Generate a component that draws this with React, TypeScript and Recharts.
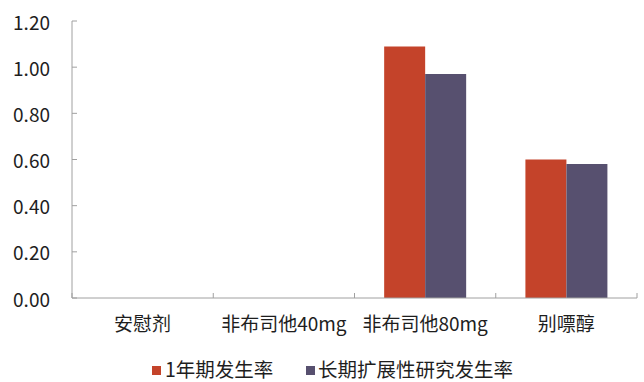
import React from "react";
import { BarChart, Bar, XAxis, YAxis, Legend } from "recharts";

// Incidence rates per treatment group
const categories = ["安慰剂", "非布司他40mg", "非布司他80mg", "别嘌醇"];
const oneYearRates = [0, 0, 1.09, 0.6];
const extensionRates = [0, 0, 0.97, 0.58];
const yTicks = [0, 0.2, 0.4, 0.6, 0.8, 1.0, 1.2];
const seriesNames = ["1年期发生率", "长期扩展性研究发生率"];
const seriesColors = ["#C4432A", "#57506F"];

const AXIS = "#A0A0A0";
const TEXT = "#1E1E1E";
const FONT = '"Noto Sans CJK SC", "Noto Sans", sans-serif';

const data = categories.map((name, i) => ({
  name,
  oneYear: oneYearRates[i],
  extension: extensionRates[i],
}));

const YTick = (props: any) => {
  const { x, y, payload } = props;
  return (
    <g>
      <line x1={x} x2={x + 5} y1={y} y2={y} stroke={AXIS} strokeWidth={1} />
      <text
        x={x - 22}
        y={y}
        textAnchor="end"
        dominantBaseline="central"
        fill={TEXT}
        fontSize={19}
        fontFamily={FONT}
      >
        {Number(payload.value).toFixed(2)}
      </text>
    </g>
  );
};

// category label plus inward tick marks on the band boundaries
const CatTick = (props: any) => {
  const { x, y, payload, index, width, visibleTicksCount } = props;
  const half = width / (visibleTicksCount || categories.length) / 2;
  const last = index === (visibleTicksCount || categories.length) - 1;
  return (
    <g>
      <line x1={x - half} x2={x - half} y1={y} y2={y - 5} stroke={AXIS} strokeWidth={1} />
      {last && <line x1={x + half} x2={x + half} y1={y} y2={y - 5} stroke={AXIS} strokeWidth={1} />}
      <text
        x={x}
        y={y + 24}
        textAnchor="middle"
        dominantBaseline="central"
        fill={TEXT}
        fontSize={19}
        fontFamily={FONT}
      >
        {payload.value}
      </text>
    </g>
  );
};

// legend swatch x-positions and label offsets
const legendItems = [
  { swatchX: 152, textX: 165 },
  { swatchX: 306, textX: 318 },
];

const LegendContent = () => (
  <svg width={644} height={24} style={{ display: "block", overflow: "visible" }}>
    {legendItems.map((item, i) => (
      <g key={seriesNames[i]}>
        <rect x={item.swatchX} y={8} width={9} height={9} fill={seriesColors[i]} />
        <text
          x={item.textX}
          y={10}
          dominantBaseline="central"
          fill={TEXT}
          fontSize={19.5}
          fontFamily={FONT}
        >
          {seriesNames[i]}
        </text>
      </g>
    ))}
  </svg>
);

export default function App() {
  return (
    <div style={{ position: "absolute", left: 0, top: 0, width: 644, height: 382, background: "#fff" }}>
      <BarChart
        width={644}
        height={382}
        data={data}
        margin={{ top: 21, right: 7, left: 0, bottom: 0 }}
        barCategoryGap="21%"
        barGap={0}
      >
        <XAxis
          dataKey="name"
          height={60}
          tickSize={0}
          tickMargin={0}
          tickLine={false}
          axisLine={{ stroke: AXIS, strokeWidth: 1 }}
          tick={<CatTick />}
          interval={0}
        />
        <YAxis
          width={72}
          domain={[0, 1.2]}
          ticks={yTicks}
          tickSize={0}
          tickMargin={0}
          tickLine={false}
          axisLine={{ stroke: AXIS, strokeWidth: 1 }}
          tick={<YTick />}
          interval={0}
        />
        <Legend
          verticalAlign="bottom"
          height={24}
          wrapperStyle={{ left: 0, width: 644 }}
          content={<LegendContent />}
        />
        <Bar dataKey="oneYear" name={seriesNames[0]} fill={seriesColors[0]} isAnimationActive={false} />
        <Bar dataKey="extension" name={seriesNames[1]} fill={seriesColors[1]} isAnimationActive={false} />
      </BarChart>
    </div>
  );
}
